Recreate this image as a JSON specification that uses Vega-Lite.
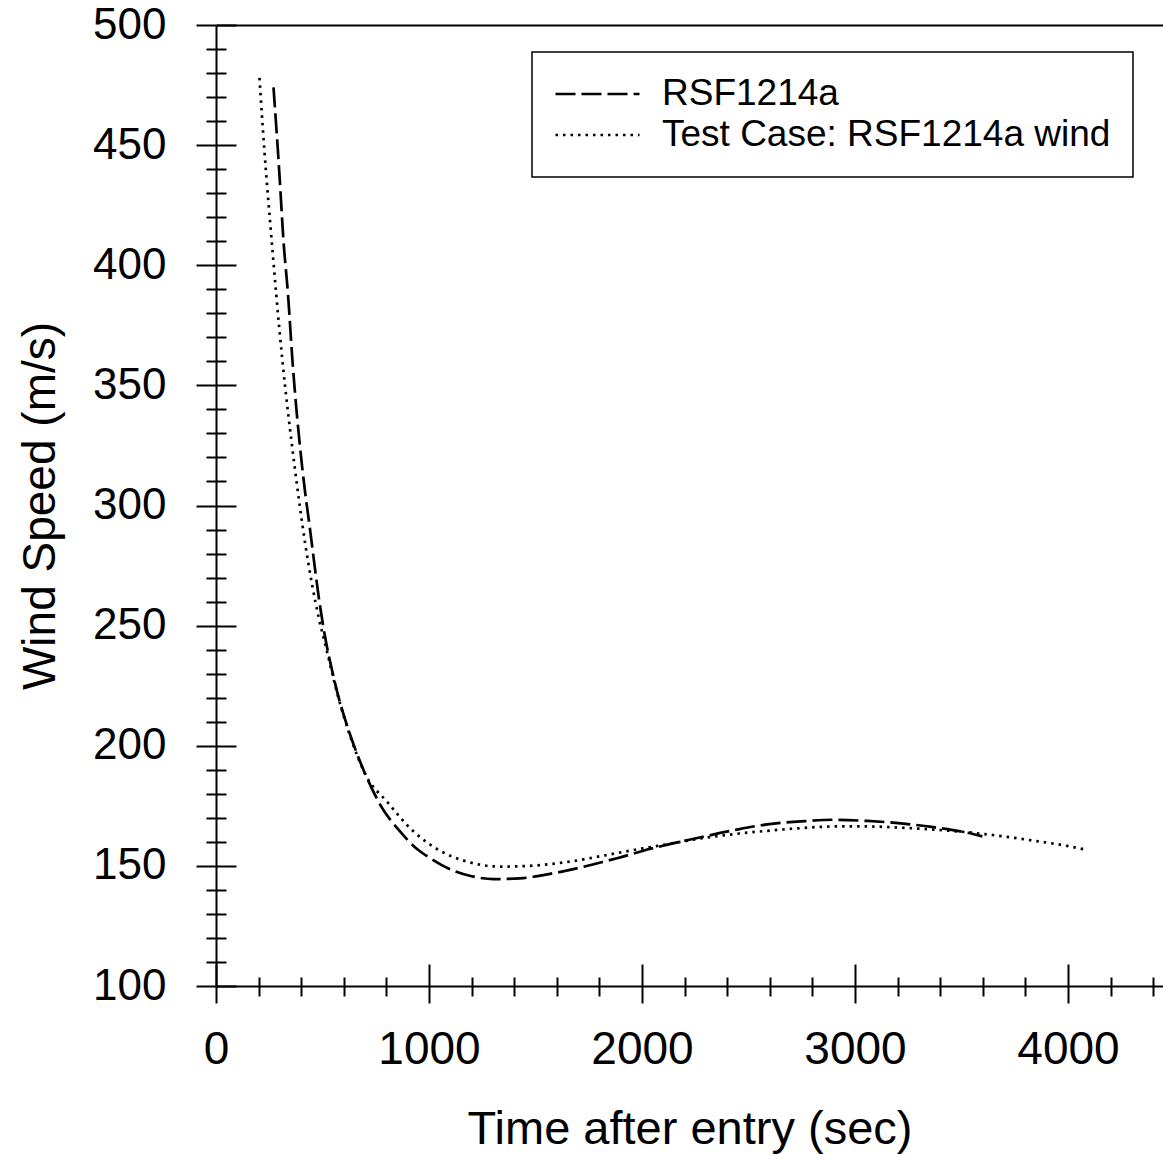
{
  "$schema": "https://vega.github.io/schema/vega-lite/v6.json",
  "autosize": {"type": "none"},
  "padding": {"left": 216, "top": 25, "right": 0, "bottom": 168},
  "width": 947,
  "height": 961,
  "background": "white",
  "config": {
    "view": {"stroke": null},
    "font": "Liberation Sans",
    "axis": {"domainColor": "black", "tickColor": "black", "labelColor": "black", "titleColor": "black", "grid": false, "labelFont": "Liberation Sans", "titleFont": "Liberation Sans", "titleFontWeight": "normal"},
    "legend": {"strokeWidth": 1.5}
  },
  "data": {"values": [
    {"t": 270, "v": 474, "s": "RSF1214a"},
    {"t": 297, "v": 439, "s": "RSF1214a"},
    {"t": 317, "v": 410, "s": "RSF1214a"},
    {"t": 338, "v": 388, "s": "RSF1214a"},
    {"t": 358, "v": 361.5, "s": "RSF1214a"},
    {"t": 407, "v": 314, "s": "RSF1214a"},
    {"t": 443, "v": 289, "s": "RSF1214a"},
    {"t": 487, "v": 259, "s": "RSF1214a"},
    {"t": 519, "v": 242, "s": "RSF1214a"},
    {"t": 546, "v": 231, "s": "RSF1214a"},
    {"t": 576, "v": 220, "s": "RSF1214a"},
    {"t": 606, "v": 211, "s": "RSF1214a"},
    {"t": 652, "v": 199, "s": "RSF1214a"},
    {"t": 697, "v": 189, "s": "RSF1214a"},
    {"t": 774, "v": 175, "s": "RSF1214a"},
    {"t": 867, "v": 164, "s": "RSF1214a"},
    {"t": 944, "v": 157, "s": "RSF1214a"},
    {"t": 1000, "v": 153.5, "s": "RSF1214a"},
    {"t": 1060, "v": 150.3, "s": "RSF1214a"},
    {"t": 1120, "v": 147.8, "s": "RSF1214a"},
    {"t": 1200, "v": 145.7, "s": "RSF1214a"},
    {"t": 1303, "v": 144.5, "s": "RSF1214a"},
    {"t": 1428, "v": 144.8, "s": "RSF1214a"},
    {"t": 1500, "v": 145.6, "s": "RSF1214a"},
    {"t": 1569, "v": 146.7, "s": "RSF1214a"},
    {"t": 1650, "v": 148.1, "s": "RSF1214a"},
    {"t": 1724, "v": 149.6, "s": "RSF1214a"},
    {"t": 1800, "v": 151.3, "s": "RSF1214a"},
    {"t": 1883, "v": 153.2, "s": "RSF1214a"},
    {"t": 2040, "v": 157.1, "s": "RSF1214a"},
    {"t": 2260, "v": 161.6, "s": "RSF1214a"},
    {"t": 2430, "v": 164.8, "s": "RSF1214a"},
    {"t": 2589, "v": 167.3, "s": "RSF1214a"},
    {"t": 2745, "v": 168.5, "s": "RSF1214a"},
    {"t": 2900, "v": 169.2, "s": "RSF1214a"},
    {"t": 3058, "v": 168.7, "s": "RSF1214a"},
    {"t": 3215, "v": 167.7, "s": "RSF1214a"},
    {"t": 3369, "v": 166.1, "s": "RSF1214a"},
    {"t": 3527, "v": 163.8, "s": "RSF1214a"},
    {"t": 3598, "v": 162.3, "s": "RSF1214a"},
    {"t": 204, "v": 478, "s": "Test Case: RSF1214a wind"},
    {"t": 227, "v": 448, "s": "Test Case: RSF1214a wind"},
    {"t": 255, "v": 417, "s": "Test Case: RSF1214a wind"},
    {"t": 311, "v": 361, "s": "Test Case: RSF1214a wind"},
    {"t": 368, "v": 317, "s": "Test Case: RSF1214a wind"},
    {"t": 419, "v": 284, "s": "Test Case: RSF1214a wind"},
    {"t": 483, "v": 253, "s": "Test Case: RSF1214a wind"},
    {"t": 519, "v": 240, "s": "Test Case: RSF1214a wind"},
    {"t": 546, "v": 230, "s": "Test Case: RSF1214a wind"},
    {"t": 576, "v": 219.5, "s": "Test Case: RSF1214a wind"},
    {"t": 606, "v": 210.5, "s": "Test Case: RSF1214a wind"},
    {"t": 652, "v": 198.5, "s": "Test Case: RSF1214a wind"},
    {"t": 697, "v": 188.8, "s": "Test Case: RSF1214a wind"},
    {"t": 806, "v": 176.4, "s": "Test Case: RSF1214a wind"},
    {"t": 929, "v": 164.2, "s": "Test Case: RSF1214a wind"},
    {"t": 1054, "v": 156.2, "s": "Test Case: RSF1214a wind"},
    {"t": 1178, "v": 151.8, "s": "Test Case: RSF1214a wind"},
    {"t": 1335, "v": 149.7, "s": "Test Case: RSF1214a wind"},
    {"t": 1489, "v": 150.1, "s": "Test Case: RSF1214a wind"},
    {"t": 1648, "v": 151.6, "s": "Test Case: RSF1214a wind"},
    {"t": 1804, "v": 154, "s": "Test Case: RSF1214a wind"},
    {"t": 1960, "v": 156.6, "s": "Test Case: RSF1214a wind"},
    {"t": 2118, "v": 159, "s": "Test Case: RSF1214a wind"},
    {"t": 2260, "v": 161.2, "s": "Test Case: RSF1214a wind"},
    {"t": 2430, "v": 163.2, "s": "Test Case: RSF1214a wind"},
    {"t": 2588, "v": 164.6, "s": "Test Case: RSF1214a wind"},
    {"t": 2745, "v": 165.7, "s": "Test Case: RSF1214a wind"},
    {"t": 2900, "v": 166.4, "s": "Test Case: RSF1214a wind"},
    {"t": 3058, "v": 166.4, "s": "Test Case: RSF1214a wind"},
    {"t": 3214, "v": 165.9, "s": "Test Case: RSF1214a wind"},
    {"t": 3369, "v": 165.1, "s": "Test Case: RSF1214a wind"},
    {"t": 3527, "v": 164.0, "s": "Test Case: RSF1214a wind"},
    {"t": 3684, "v": 162.4, "s": "Test Case: RSF1214a wind"},
    {"t": 3838, "v": 160.5, "s": "Test Case: RSF1214a wind"},
    {"t": 3996, "v": 158.3, "s": "Test Case: RSF1214a wind"},
    {"t": 4090, "v": 156.6, "s": "Test Case: RSF1214a wind"}
  ]},
  "layer": [
    {
      "mark": {"type": "line", "color": "black", "strokeWidth": 2.7, "interpolate": "monotone"},
      "encoding": {
        "x": {
          "field": "t", "type": "quantitative",
          "scale": {"domain": [0, 4446], "nice": false, "zero": false},
          "axis": {
            "orient": "bottom",
            "values": [0,200,400,600,800,1000,1200,1400,1600,1800,2000,2200,2400,2600,2800,3000,3200,3400,3600,3800,4000,4200,4400],
            "format": "d",
            "labelExpr": "datum.value % 1000 === 0 ? datum.label : ''",
            "tickSize": {"condition": {"test": "datum.value % 1000 === 0", "value": 17}, "value": 10},
            "tickWidth": 2, "domainWidth": 2,
            "labelFontSize": 46, "labelPadding": 24, "labelFlush": false, "labelOverlap": false,
            "title": "Time after entry (sec)", "titleFontSize": 47, "titlePadding": 34
          }
        },
        "y": {
          "field": "v", "type": "quantitative",
          "scale": {"domain": [100, 500], "nice": false, "zero": false},
          "axis": {
            "orient": "left",
            "values": [100,110,120,130,140,150,160,170,180,190,200,210,220,230,240,250,260,270,280,290,300,310,320,330,340,350,360,370,380,390,400,410,420,430,440,450,460,470,480,490,500],
            "labelExpr": "datum.value % 50 === 0 ? datum.label : ''",
            "tickSize": {"condition": {"test": "datum.value % 50 === 0", "value": 20}, "value": 10},
            "tickWidth": 2, "domainWidth": 2,
            "labelFontSize": 44, "labelPadding": 30, "labelFlush": false, "labelOverlap": false,
            "title": "Wind Speed (m/s)", "titleFontSize": 46, "titlePadding": 28
          }
        },
        "strokeDash": {
          "field": "s", "type": "nominal",
          "scale": {"domain": ["RSF1214a", "Test Case: RSF1214a wind"], "range": [[20, 6], [2.5, 5]]},
          "legend": {
            "orient": "none", "legendX": 316, "legendY": 27, "title": null,
            "symbolType": "stroke", "symbolSize": 7056, "symbolStrokeWidth": 2.5, "symbolStrokeColor": "black",
            "labelFontSize": 37, "labelFont": "Liberation Sans", "labelColor": "black", "labelLimit": 1000, "labelOffset": 21,
            "clipHeight": 40, "rowPadding": 1, "padding": 22,
            "strokeColor": "black", "fillColor": "white", "cornerRadius": 0
          }
        }
      }
    },
    {
      "mark": {"type": "line", "opacity": 0},
      "encoding": {
        "x": {
          "field": "t", "type": "quantitative",
          "axis": {
            "orient": "top", "offset": -961,
            "values": [0,200,400,600,800,1000,1200,1400,1600,1800,2000,2200,2400,2600,2800,3000,3200,3400,3600,3800,4000,4200,4400],
            "labels": false, "domain": false,
            "tickSize": {"condition": {"test": "datum.value % 1000 === 0", "value": 22}, "value": 9},
            "tickWidth": 2, "title": null
          }
        },
        "y": {
          "field": "v", "type": "quantitative",
          "axis": {
            "orient": "right", "offset": -947,
            "values": [100,110,120,130,140,150,160,170,180,190,200,210,220,230,240,250,260,270,280,290,300,310,320,330,340,350,360,370,380,390,400,410,420,430,440,450,460,470,480,490,500],
            "labels": false, "domain": false,
            "tickSize": {"condition": {"test": "datum.value % 50 === 0", "value": 20}, "value": 10},
            "tickWidth": 2, "title": null
          }
        }
      }
    },
    {
      "mark": {"type": "line", "opacity": 0},
      "encoding": {
        "x": {
          "field": "t", "type": "quantitative",
          "axis": {"orient": "top", "ticks": false, "labels": false, "domain": true, "domainWidth": 2, "title": null}
        },
        "y": {"field": "v", "type": "quantitative", "axis": null}
      }
    }
  ],
  "resolve": {"axis": {"x": "independent", "y": "independent"}}
}
